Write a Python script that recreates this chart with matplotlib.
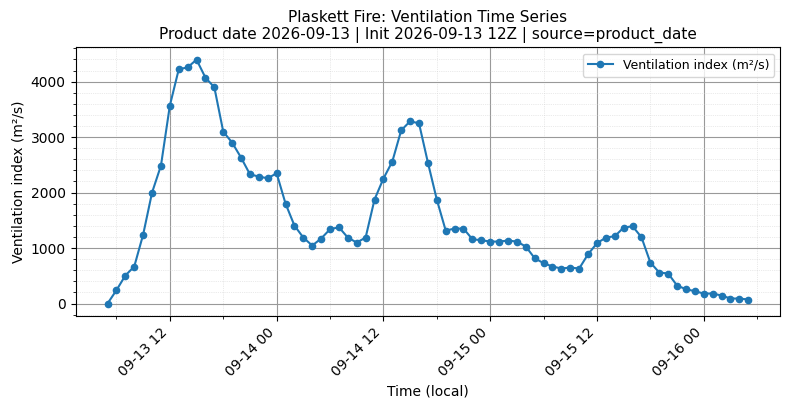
import matplotlib

matplotlib.use("Agg")
import matplotlib.pyplot as plt
import matplotlib.dates as mdates
import pandas as pd
from matplotlib.ticker import MultipleLocator

# hourly valid times, local
times = pd.date_range("2026-09-13 05:00", periods=73, freq="h")

vent_index = [
    0, 240, 505, 667, 1243, 2000, 2486, 3568, 4222, 4258, 4396, 4072, 3898,
    3099, 2901, 2631, 2330, 2288, 2258, 2348, 1802, 1405, 1189, 1045,
    1171, 1339, 1375, 1189, 1099, 1189, 1874, 2252, 2559, 3123, 3285, 3249,
    2541, 1874, 1315, 1351, 1351, 1159, 1141, 1117, 1117, 1135, 1117, 1027,
    817, 727, 667, 631, 649, 631, 889, 1087, 1189, 1213, 1369, 1393, 1195,
    739, 559, 541, 324, 258, 222, 180, 180, 144, 90, 90, 72,
]

fig, ax = plt.subplots(figsize=(7.9, 4.09), dpi=100)
fig.subplots_adjust(left=0.0956, right=0.9877, top=0.8839, bottom=0.2281)
ax.plot(times, vent_index, marker="o", markersize=4.5, lw=1.5, color="#1f77b4",
        label="Ventilation index (m\u00b2/s)")

ax.set_title("Plaskett Fire: Ventilation Time Series\n"
             "Product date 2026-09-13 | Init 2026-09-13 12Z | source=product_date",
             fontsize=11)
ax.set_xlabel("Time (local)")
ax.set_ylabel("Ventilation index (m\u00b2/s)")

ax.xaxis.set_major_locator(mdates.HourLocator(byhour=[0, 12]))
ax.xaxis.set_minor_locator(mdates.HourLocator(byhour=[0, 6, 12, 18]))
ax.xaxis.set_major_formatter(mdates.DateFormatter("%m-%d %H"))
ax.yaxis.set_major_locator(MultipleLocator(1000))
ax.yaxis.set_minor_locator(MultipleLocator(200))

ax.grid(which="major", color="#999999", lw=0.8)
ax.grid(which="minor", color="#cccccc", lw=0.5, ls=":", alpha=0.8)
plt.setp(ax.get_xticklabels(), rotation=45, ha="right")

ax.legend(loc="upper right", fontsize=9)
fig.savefig("out.png", dpi=100)
